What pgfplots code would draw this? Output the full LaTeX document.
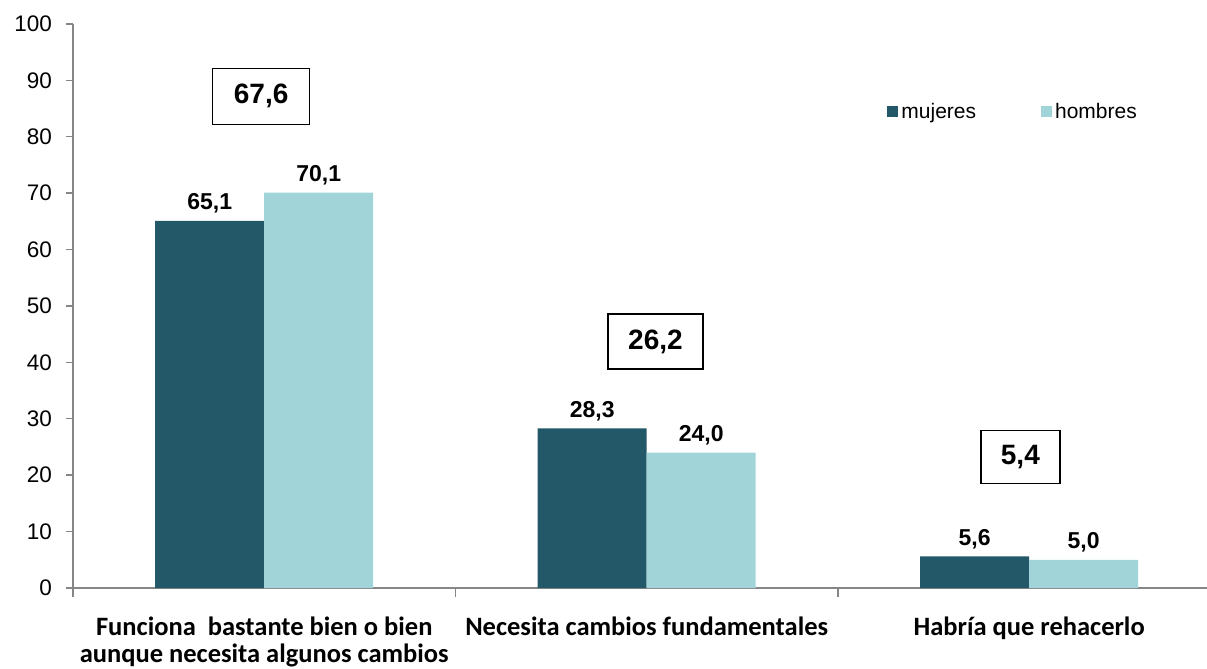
\documentclass[border=0pt]{standalone}
\usepackage{pgfplots}
\pgfplotsset{compat=1.18}
\usepackage{fontspec}
\setmainfont{Liberation Sans}
\newfontfamily\carlito{Carlito}
\definecolor{dark}{HTML}{235868}
\definecolor{light}{HTML}{A0D4D9}
\definecolor{axgray}{HTML}{868686}

\begin{document}
\begin{tikzpicture}
\begin{axis}[
  name=ax, anchor=south west, at={(0,0)},
  scale only axis, width=1134pt, height=564pt,
  xmin=-0.5, xmax=2.465, ymin=0, ymax=100,
  axis x line*=bottom, axis y line*=left,
  axis line style={axgray, line width=1.4pt},
  ybar=0pt, bar width=109pt,
  legend image code/.code={\fill[#1] (0pt,-5.5pt) rectangle (11pt,5.5pt);},
  tick style={axgray, line width=1.4pt},
  xtick={0,1,2},
  xticklabels={{Funciona\ \ bastante bien o bien\\aunque necesita algunos cambios},{Necesita cambios fundamentales},{Habría que rehacerlo}},
  major x tick style={draw=none},
  minor xtick={-0.5,0.5,1.5},
  minor tick length=9pt,
  ytick={0,10,...,100},
  major tick length=7pt,
  tick align=outside,
  /pgf/number format/assume math mode=true,
  yticklabel={\pgfmathprintnumber{\tick}},
  xticklabel style={font=\carlito\bfseries\fontsize{26.5}{27}\selectfont, align=center, yshift=-18pt},
  yticklabel style={font=\fontsize{22.5}{26}\selectfont, anchor=east, inner sep=0pt, xshift=-14pt},
  nodes near coords={\pgfmathprintnumber[fixed,fixed zerofill,precision=1,use comma]{\pgfplotspointmeta}},
  every node near coord/.append style={font=\bfseries\fontsize{23}{27}\selectfont, anchor=south, yshift=4pt, text=black},
  legend columns=2,
  legend style={at={(rel axis cs:0.718,0.845)}, anchor=west, draw=none, fill=none,
    font=\fontsize{21}{25}\selectfont, inner sep=0pt,
    /tikz/every even column/.append style={column sep=62pt},
    nodes={inner sep=3pt}},
]
\addplot[fill=dark, draw=none] coordinates {(0,65.1) (1,28.3) (2,5.6)};
\addplot[fill=light, draw=none] coordinates {(0,70.1) (1,24.0) (2,5.0)};
\legend{mujeres, hombres}
\node[draw=black, line width=1.3pt, minimum width=97pt, minimum height=56pt, font=\bfseries\fontsize{28}{32}\selectfont] at (axis cs:-0.008,87.2) {67,6};
\node[draw=black, line width=1.3pt, minimum width=95pt, minimum height=55pt, font=\bfseries\fontsize{28}{32}\selectfont] at (axis cs:1.023,43.7) {26,2};
\node[draw=black, line width=1.3pt, minimum width=79pt, minimum height=53pt, font=\bfseries\fontsize{28}{32}\selectfont] at (axis cs:1.977,23.2) {5,4};
\end{axis}
\pgfresetboundingbox
\path (-73pt,-81pt) rectangle (1134pt,588pt);
\end{tikzpicture}
\end{document}
